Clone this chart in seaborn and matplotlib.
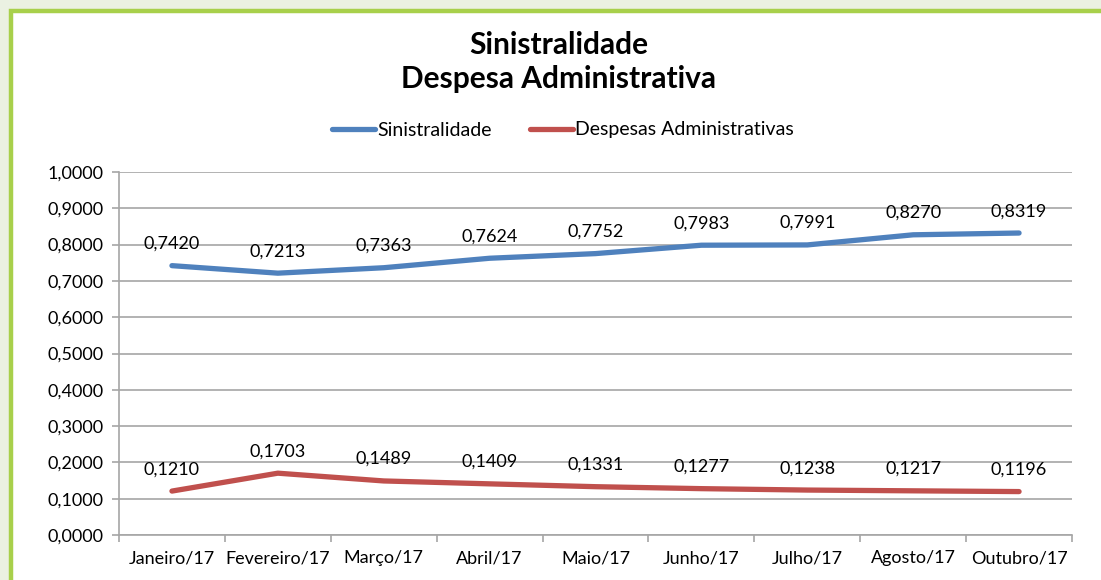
import numpy as np
import pandas as pd
import matplotlib
matplotlib.use('Agg')
import matplotlib.pyplot as plt
import matplotlib.patches as mpatches
from matplotlib.ticker import FuncFormatter, FixedLocator
import seaborn as sns

# Dados
meses = ['Janeiro/17', 'Fevereiro/17', 'Março/17', 'Abril/17', 'Maio/17',
         'Junho/17', 'Julho/17', 'Agosto/17', 'Outubro/17']
sinistralidade = [0.7420, 0.7213, 0.7363, 0.7624, 0.7752, 0.7983, 0.7991, 0.8270, 0.8319]
despesas_adm = [0.1210, 0.1703, 0.1489, 0.1409, 0.1331, 0.1277, 0.1238, 0.1217, 0.1196]

series = {'Sinistralidade': sinistralidade, 'Despesas Administrativas': despesas_adm}
colors = {'Sinistralidade': '#4F81BD', 'Despesas Administrativas': '#C0504D'}

df = pd.concat([pd.DataFrame({'mes': meses, 'valor': v, 'serie': k}) for k, v in series.items()])

sns.set_theme(style='white')
plt.rcParams['font.family'] = ['Lato', 'DejaVu Sans']
plt.rcParams['text.color'] = 'black'

fig = plt.figure(figsize=(11.01, 5.8), dpi=100, facecolor='#EBF1E2')
# moldura branca com borda verde
fig.patches.append(mpatches.Rectangle((11 / 1101, -0.2), 1.2, 1.2 - 11 / 580,
                                      transform=fig.transFigure, facecolor='white',
                                      edgecolor='#A8D04B', linewidth=3.2, zorder=-5))

ax = fig.add_axes([119 / 1101, 45 / 580, (1072 - 119) / 1101, (535 - 172) / 580])
ax.set_facecolor('white')

sns.lineplot(data=df, x='mes', y='valor', hue='serie', palette=colors, ax=ax,
             linewidth=3.8, sort=False, legend=False, solid_capstyle='round')

# rótulos de dados
fmt = lambda v: f'{v:.4f}'.replace('.', ',')
for k, vals in series.items():
    for i, v in enumerate(vals):
        ax.annotate(fmt(v), (i, v), xytext=(0, 10), textcoords='offset points',
                    ha='center', va='bottom', fontsize=13, color='black')

ax.set_ylim(0, 1.0)
ax.set_xlim(-0.5, len(meses) - 0.5)
ax.yaxis.set_major_locator(FixedLocator(np.arange(0, 1.01, 0.1)))
ax.yaxis.set_major_formatter(FuncFormatter(lambda v, p: fmt(v)))
ax.grid(axis='y', color='#A6A6A6', linewidth=1.2)
ax.grid(axis='x', visible=False)
ax.set_axisbelow(True)

ax.set_xticks(range(len(meses)))
ax.set_xticklabels(meses)
ax.set_xticks(np.arange(-0.5, len(meses), 1.0), minor=True)
ax.tick_params(axis='x', which='major', length=0, pad=11, labelsize=13, labelcolor='black')
ax.tick_params(axis='x', which='minor', length=5, width=1.2, color='#A6A6A6', direction='out', bottom=True)
ax.tick_params(axis='y', length=5, width=1.2, color='#A6A6A6', direction='out', left=True,
               labelsize=13, labelcolor='black', pad=6)
ax.set_xlabel('')
ax.set_ylabel('')

for s in ['top', 'right']:
    ax.spines[s].set_visible(False)
for s in ['left', 'bottom']:
    ax.spines[s].set_color('#A6A6A6')
    ax.spines[s].set_linewidth(1.2)

# legenda
handles = [plt.Line2D([0], [0], color=colors[k], linewidth=3.8, solid_capstyle='round') for k in series]
fig.legend(handles, list(series.keys()), loc='center', bbox_to_anchor=(563 / 1101, 1 - 130 / 580),
           ncol=2, frameon=False, fontsize=14, handlelength=2.2, handletextpad=0.1,
           columnspacing=2.0)

fig.text(559 / 1101, 1 - 62 / 580, 'Sinistralidade\nDespesa Administrativa', ha='center', va='center',
         fontsize=21.5, fontweight='bold', linespacing=1.25, color='black')

fig.savefig('out.png', dpi=100, facecolor=fig.get_facecolor())
